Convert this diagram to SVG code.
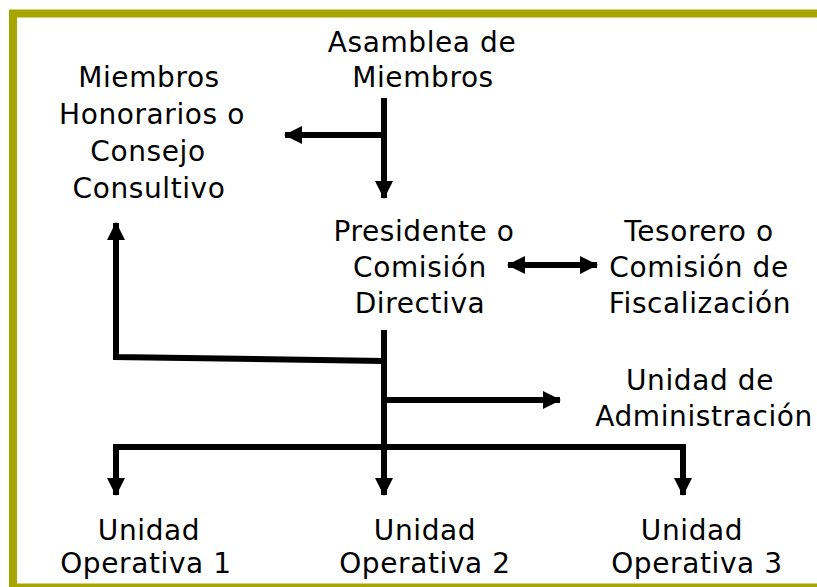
<svg xmlns="http://www.w3.org/2000/svg" width="817" height="587" viewBox="0 0 817 587">
<style>
text{font-family:"DejaVu Sans","Liberation Sans",sans-serif;font-size:28px;fill:#000;text-anchor:middle;letter-spacing:0.6px}
.c{stroke:#000;stroke-width:6;fill:none}
</style>
<defs>
<marker id="ah" markerUnits="userSpaceOnUse" markerWidth="18" markerHeight="18" refX="17" refY="9" orient="auto-start-reverse" viewBox="0 0 18 18">
<path d="M0,0 L18,9 L0,18 Z" fill="#000"/>
</marker>
</defs>
<rect width="817" height="587" fill="#fff"/>
<rect x="13" y="13.5" width="830" height="574" fill="none" stroke="#A9A500" stroke-width="8"/>
<g id="connectors">
<path class="c" d="M384,98 V198" marker-end="url(#ah)"/>
<path class="c" d="M384,135 H285" marker-end="url(#ah)"/>
<path class="c" d="M508,265 H597" marker-start="url(#ah)" marker-end="url(#ah)"/>
<path class="c" d="M384,330 V495" marker-end="url(#ah)"/>
<path class="c" d="M384,361 L116,357 V223" marker-end="url(#ah)"/>
<path class="c" d="M384,400 H560" marker-end="url(#ah)"/>
<path class="c" d="M116,495 V447 H683 V495" marker-start="url(#ah)" marker-end="url(#ah)"/>
</g>
<g id="asamblea"><text x="422" y="52">Asamblea de</text><text x="423" y="87">Miembros</text></g>
<g id="honorarios"><text x="149" y="87">Miembros</text><text x="152" y="124">Honorarios o</text><text x="148" y="161">Consejo</text><text x="149" y="198">Consultivo</text></g>
<g id="presidente"><text x="424" y="241">Presidente o</text><text x="420" y="277">Comisión</text><text x="420" y="313">Directiva</text></g>
<g id="tesorero"><text x="699" y="241">Tesorero o</text><text x="699" y="277">Comisión de</text><text x="700" y="313">Fiscalización</text></g>
<g id="administracion"><text x="700" y="390">Unidad de</text><text x="704" y="426">Administración</text></g>
<g id="op1"><text x="149" y="540">Unidad</text><text x="146" y="573">Operativa 1</text></g>
<g id="op2"><text x="425" y="540">Unidad</text><text x="425" y="573">Operativa 2</text></g>
<g id="op3"><text x="692" y="540">Unidad</text><text x="697" y="573">Operativa 3</text></g>
</svg>
